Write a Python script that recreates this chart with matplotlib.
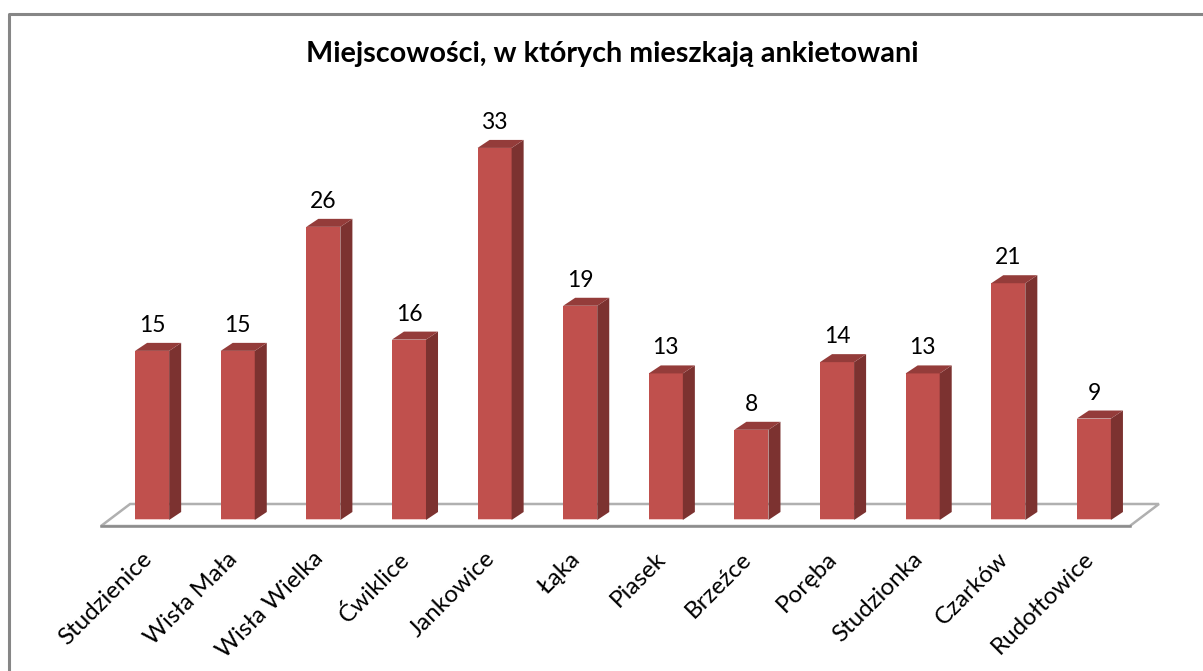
import matplotlib
matplotlib.use("Agg")
import matplotlib.pyplot as plt
from matplotlib.patches import Polygon, Rectangle
from matplotlib.lines import Line2D

categories = ["Studzienice", "Wisła Mała", "Wisła Wielka", "Ćwiklice", "Jankowice", "Łąka",
              "Piasek", "Brzeźce", "Poręba", "Studzionka", "Czarków", "Rudołtowice"]
values = [15, 15, 26, 16, 33, 19, 13, 8, 14, 13, 21, 9]
title = "Miejscowości, w których mieszkają ankietowani"

W, H = 1203, 671
plt.rcParams['font.family'] = ['Lato', 'DejaVu Sans']
fig = plt.figure(figsize=(W / 100, H / 100), dpi=100, facecolor='white')

# plot area mapped so that one category = 85.45 px, one unit = 11.27 px
left, right = 109.3, 1136.7
base, top = 520, 69
ax = fig.add_axes([left / W, 1 - base / H, (right - left) / W, (base - top) / H])
ax.set_xlim(-0.5, 11.5)
ax.set_ylim(0, 40)
ax.axis('off')

dx, dy = 12 / 85.45, 8 / 11.27
hw = 17 / 85.45
FRONT, SIDE, TOPC = '#C0504D', '#7C3230', '#943C3A'

# floor
fy0, fy1 = -6 / 11.27, 16 / 11.27
fx0, fx1, bx0, bx1 = -0.597, 11.42, -0.257, 11.76
ax.add_patch(Polygon([(fx0, fy0), (fx1, fy0), (bx1, fy1), (bx0, fy1)], closed=True,
                     facecolor='white', edgecolor='#B0B0B0', lw=1.8, clip_on=False, zorder=1))
ax.plot([fx0, fx1], [fy0, fy0], color='#8C8C8C', lw=1.8, clip_on=False, zorder=1)

for i, v in enumerate(values):
    x0, x1 = i - hw, i + hw
    ax.add_patch(Rectangle((x0, -0.1), x1 - x0, 0.3, facecolor='#EFC9C8', edgecolor='none', zorder=2.9))
    ax.add_patch(Rectangle((x0, 0.1), x1 - x0, v - 0.1, facecolor=FRONT, edgecolor='none', zorder=3))
    ax.add_patch(Polygon([(x1, 0), (x1 + dx, dy), (x1 + dx, v + dy), (x1, v)], closed=True,
                         facecolor=SIDE, edgecolor='none', zorder=3))
    ax.add_patch(Polygon([(x0, v), (x1, v), (x1 + dx, v + dy), (x0 + dx, v + dy)], closed=True,
                         facecolor=TOPC, edgecolor='none', zorder=3))
    ax.annotate(str(v), (i, v), xytext=(0, 15), textcoords='offset pixels', ha='center',
                va='bottom', fontsize=16.5, color='black', zorder=4)
    ax.annotate(categories[i], (i, 0), xytext=(-11, -28), textcoords='offset pixels',
                ha='right', va='top', rotation=45, rotation_mode='anchor',
                fontsize=17.4, color='black', annotation_clip=False)

fig.text(612.5 / W, 1 - 54 / H, title, ha='center', va='center', fontsize=20.7,
         fontweight='bold', color='black')

# chart frame: top and left edges only
frame_x, frame_y = [9 / W, 9 / W, 1], [0, 1 - 14 / H, 1 - 14 / H]
fig.add_artist(Line2D(frame_x, frame_y, transform=fig.transFigure, color='#868686', lw=2.2))
fig.savefig('out.png', dpi=100)
